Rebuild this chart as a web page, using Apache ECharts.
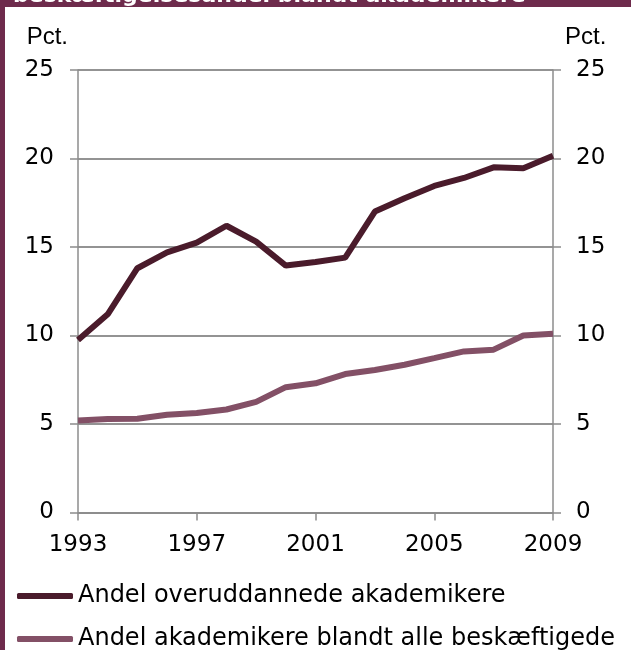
<!DOCTYPE html>
<html>
<head>
  <meta charset="utf-8">
  <title>Akademikere</title>
  <script src="https://cdn.jsdelivr.net/npm/echarts@6/dist/echarts.min.js"></script>
  <style>
    html, body { margin: 0; padding: 0; background: #fff; }
    #chart-main { width: 631px; height: 650px; }
  </style>
</head>
<body>
<div id="chart-main"></div>
<script>
var years = ['1993','1994','1995','1996','1997','1998','1999','2000','2001',
             '2002','2003','2004','2005','2006','2007','2008','2009'];
var overuddannede = [9.75, 11.2, 13.8, 14.7, 15.25, 16.2, 15.3, 13.95, 14.15,
                     14.4, 17.0, 17.75, 18.45, 18.9, 19.5, 19.45, 20.15];
var beskaeftigede = [5.2, 5.28, 5.3, 5.52, 5.62, 5.82, 6.25, 7.08, 7.3,
                     7.82, 8.05, 8.35, 8.72, 9.1, 9.2, 10.0, 10.1];
var seriesNames = ['Andel overuddannede akademikere', 'Andel akademikere blandt alle beskæftigede'];
var titleText = 'beskæftigelsesandel blandt akademikere';

var frame = '#6e2b4c';
var gray = '#8c8c8c';
var font = 'DejaVu Sans';

var myChart = echarts.init(document.getElementById('chart-main'));

var axisLine  = { show: true, lineStyle: { color: gray, width: 1.5 } }
var axisTick  = { show: true, length: 8, lineStyle: { color: gray, width: 1.5 } }
var splitLine = { show: true, lineStyle: { color: gray, width: 1.5 } }
var nameStyle = { fontFamily: 'Liberation Sans', fontSize: 24, color: '#000', verticalAlign: 'middle' }

function yAxis(pos, align, pad) {
  return {
    type: 'value', position: pos, min: 0, max: 25, interval: 5,
    name: 'Pct.', nameLocation: 'end', nameGap: 33,
    nameTextStyle: Object.assign({ align: align, padding: pad }, nameStyle),
    axisLine: axisLine, axisTick: axisTick, splitLine: splitLine,
    axisLabel: { color: '#000', fontFamily: font, fontSize: 23, margin: pos == 'left' ? 24 : 23 }
  }
}

function legend(i, top) {
  return {
    left: 12, top: top, itemWidth: 56, itemHeight: 6, icon: 'roundRect',
    textStyle: { color: '#000', fontFamily: font, fontSize: 24, lineHeight: 24 },
    data: [seriesNames[i]]
  }
}

var option = {
  backgroundColor: '#fff',
  animation: false,
  title: {
    text: titleText, left: 8, top: -20,
    textStyle: { color: '#fff', fontFamily: font, fontWeight: 'bold', fontSize: 22 }
  },
  graphic: [
    { type: 'rect', z: -1, shape: { x: 0, y: 0, width: 631, height: 7 }, style: { fill: frame } },
    { type: 'rect', z: -1, shape: { x: 0, y: 0, width: 5, height: 650 }, style: { fill: frame } }
  ],
  grid: { left: 78, right: 78, top: 70, bottom: 137.5 },
  legend: [ legend(0, 579), legend(1, 622) ],
  xAxis: {
    type: 'category', data: years, boundaryGap: false,
    axisLine: axisLine,
    axisTick: Object.assign({ interval: 3 }, axisTick),
    axisLabel: { interval: 3, color: '#000', fontFamily: font, fontSize: 23, margin: 21 }
  },
  yAxis: [ yAxis('left', 'right', [0, 10, 0, 0]), yAxis('right', 'left', [0, 0, 0, 12]) ],
  series: [
    { name: seriesNames[0], type: 'line', data: overuddannede, showSymbol: false, symbol: 'none',
      color: '#4a1b2b', lineStyle: { color: '#4a1b2b', width: 6 } },
    { name: seriesNames[1], type: 'line', data: beskaeftigede, showSymbol: false, symbol: 'none',
      color: '#835066', lineStyle: { color: '#835066', width: 6 } }
  ]
};

myChart.setOption(option);
</script>
</body>
</html>
